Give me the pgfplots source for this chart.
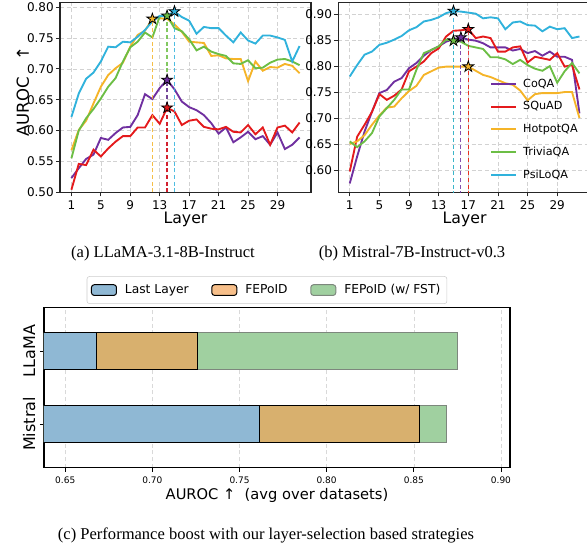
\documentclass[border=0pt]{standalone}
\usepackage{pgfplots}
\usepackage{pgfplotstable}
\pgfplotsset{compat=1.18}
\usepackage{fontspec}
\setmainfont{DejaVu Sans}
\newfontfamily\capfont{Liberation Serif}

\definecolor{cCoqa}{RGB}{112,48,160}
\definecolor{cSquad}{RGB}{228,26,28}
\definecolor{cHotpot}{RGB}{245,180,40}
\definecolor{cTrivia}{RGB}{108,190,69}
\definecolor{cPsi}{RGB}{48,178,220}
\definecolor{barBlue}{RGB}{143,184,212}
\definecolor{barTan}{RGB}{216,176,110}
\definecolor{barOrange}{RGB}{247,191,138}
\definecolor{barGreen}{RGB}{160,208,160}
\definecolor{barEdge}{RGB}{125,135,125}

% filled five-point star marker
\pgfdeclareplotmark{fstar}{%
  \pgfpathmoveto{\pgfpointpolar{90}{\pgfplotmarksize}}%
  \pgfpathlineto{\pgfpointpolar{126}{0.38\pgfplotmarksize}}%
  \pgfpathlineto{\pgfpointpolar{162}{\pgfplotmarksize}}%
  \pgfpathlineto{\pgfpointpolar{198}{0.38\pgfplotmarksize}}%
  \pgfpathlineto{\pgfpointpolar{234}{\pgfplotmarksize}}%
  \pgfpathlineto{\pgfpointpolar{270}{0.38\pgfplotmarksize}}%
  \pgfpathlineto{\pgfpointpolar{306}{\pgfplotmarksize}}%
  \pgfpathlineto{\pgfpointpolar{342}{0.38\pgfplotmarksize}}%
  \pgfpathlineto{\pgfpointpolar{18}{\pgfplotmarksize}}%
  \pgfpathlineto{\pgfpointpolar{54}{0.38\pgfplotmarksize}}%
  \pgfpathclose
  \pgfusepathqfillstroke}

% layer-wise AUROC, LLaMA-3.1-8B-Instruct
\pgfplotstableread{
layer coqa squad hotpot trivia psi
1 0.523 0.504 0.568 0.555 0.622
2 0.539 0.546 0.601 0.600 0.660
3 0.554 0.544 0.616 0.620 0.684
4 0.561 0.569 0.644 0.635 0.694
5 0.588 0.558 0.671 0.652 0.712
6 0.585 0.571 0.690 0.671 0.736
7 0.596 0.582 0.701 0.685 0.735
8 0.605 0.591 0.710 0.712 0.744
9 0.606 0.591 0.736 0.735 0.743
10 0.625 0.605 0.755 0.744 0.752
11 0.659 0.605 0.762 0.759 0.763
12 0.651 0.625 0.781 0.751 0.777
13 0.669 0.611 0.782 0.785 0.786
14 0.682 0.637 0.781 0.786 0.786
15 0.667 0.631 0.772 0.766 0.793
16 0.647 0.609 0.760 0.761 0.784
17 0.638 0.616 0.744 0.748 0.778
18 0.633 0.618 0.743 0.730 0.757
19 0.625 0.606 0.742 0.736 0.768
20 0.612 0.603 0.721 0.728 0.766
21 0.595 0.602 0.722 0.724 0.766
22 0.605 0.606 0.717 0.721 0.754
23 0.581 0.598 0.716 0.709 0.743
24 0.589 0.597 0.716 0.708 0.759
25 0.598 0.609 0.680 0.714 0.746
26 0.586 0.594 0.712 0.701 0.741
27 0.591 0.605 0.697 0.702 0.754
28 0.577 0.577 0.703 0.710 0.754
29 0.597 0.605 0.702 0.715 0.751
30 0.570 0.608 0.708 0.716 0.747
31 0.577 0.597 0.705 0.712 0.712
32 0.589 0.613 0.693 0.706 0.737
}\llama

% layer-wise AUROC, Mistral-7B-Instruct-v0.3
\pgfplotstableread{
layer coqa squad hotpot trivia psi
1 0.574 0.597 0.650 0.655 0.780
2 0.626 0.664 0.655 0.644 0.802
3 0.674 0.687 0.667 0.655 0.822
4 0.712 0.712 0.687 0.671 0.828
5 0.748 0.746 0.705 0.703 0.841
6 0.754 0.735 0.720 0.719 0.845
7 0.770 0.743 0.722 0.735 0.851
8 0.777 0.755 0.738 0.755 0.858
9 0.796 0.790 0.752 0.755 0.869
10 0.806 0.799 0.762 0.793 0.875
11 0.820 0.809 0.783 0.825 0.886
12 0.831 0.825 0.790 0.831 0.889
13 0.838 0.834 0.797 0.838 0.894
14 0.847 0.857 0.799 0.851 0.902
15 0.852 0.868 0.799 0.849 0.906
16 0.855 0.869 0.799 0.847 0.905
17 0.851 0.871 0.799 0.839 0.903
18 0.849 0.854 0.791 0.836 0.901
19 0.844 0.857 0.783 0.833 0.892
20 0.836 0.854 0.779 0.817 0.894
21 0.836 0.828 0.773 0.817 0.892
22 0.836 0.828 0.767 0.813 0.871
23 0.830 0.836 0.764 0.804 0.884
24 0.833 0.838 0.753 0.812 0.886
25 0.825 0.807 0.734 0.802 0.879
26 0.829 0.818 0.746 0.795 0.878
27 0.820 0.815 0.748 0.791 0.867
28 0.828 0.812 0.748 0.800 0.876
29 0.818 0.825 0.748 0.768 0.871
30 0.818 0.799 0.750 0.790 0.873
31 0.812 0.802 0.750 0.806 0.854
32 0.709 0.755 0.700 0.786 0.857
}\mistral

\pgfplotsset{
  layerax/.style={
    scale only axis, anchor=north west,
    xmin=-0.55, xmax=33.55, xtick={1,5,...,29},
    grid=major, grid style={densely dashed, gray!35, line width=0.4pt},
    axis line style={black!85, line width=0.8pt},
    tick align=outside, tick pos=left, major tick length=3pt,
    tick style={black!85, line width=0.6pt},
    ticklabel style={font=\fontsize{9}{10}\selectfont},
    yticklabel style={inner xsep=1.5pt, /pgf/number format/fixed, /pgf/number format/fixed zerofill, /pgf/number format/precision=2},
    /pgf/number format/assume math mode=true,
    xlabel={Layer},
    xlabel style={font=\fontsize{11.8}{13}\selectfont, at={(0.5,0)}, anchor=base, yshift=-23.8pt},
    every axis plot/.append style={line width=1.4pt},
  },
  vdash/.style={dash pattern=on 3pt off 2pt, line width=0.9pt, opacity=0.85, forget plot},
  starm/.style={only marks, mark=fstar, mark size=4.3pt, forget plot,
    mark options={draw=black, line width=0.6pt, fill=#1}},
  boxleg/.style={legend image code/.code={\draw[##1] (0pt,-4pt) rectangle (18.75pt,4pt);}},
}

\begin{document}
\begin{tikzpicture}
\useasboundingbox (0,0) rectangle (440.25pt,411pt);

% (a) LLaMA
\begin{axis}[layerax, at={(45pt,409.3pt)}, width=188.25pt, height=142.5pt,
  ymin=0.5, ymax=0.808, ytick={0.50,0.55,0.60,0.65,0.70,0.75,0.80},
  ylabel={AUROC\quad ↑},
  ylabel style={font=\fontsize{12.4}{14}\selectfont, at={(axis description cs:-0.148,0.53)}, anchor=center},
]
\addplot[cCoqa] table[x=layer,y=coqa]{\llama};
\addplot[cSquad] table[x=layer,y=squad]{\llama};
\addplot[cHotpot] table[x=layer,y=hotpot]{\llama};
\addplot[cTrivia] table[x=layer,y=trivia]{\llama};
\addplot[cPsi] table[x=layer,y=psi]{\llama};
\addplot[cHotpot, vdash] coordinates {(12,0.5) (12,0.781)};
\addplot[cTrivia, vdash] coordinates {(14,0.5) (14,0.786)};
\addplot[cCoqa, vdash] coordinates {(14,0.5) (14,0.682)};
\addplot[cSquad, vdash] coordinates {(14,0.5) (14,0.637)};
\addplot[cPsi, vdash] coordinates {(15,0.5) (15,0.793)};
\addplot[starm=cHotpot] coordinates {(12,0.781)};
\addplot[starm=cTrivia] coordinates {(14,0.786)};
\addplot[starm=cCoqa] coordinates {(14,0.682)};
\addplot[starm=cSquad] coordinates {(14,0.637)};
\addplot[starm=cPsi] coordinates {(15,0.793)};
\end{axis}

% (b) Mistral
\begin{axis}[layerax, at={(253.7pt,409.3pt)}, width=189.5pt, height=142.5pt,
  ymin=0.557, ymax=0.923, ytick={0.60,0.65,0.70,0.75,0.80,0.85,0.90},
  legend style={draw=none, fill=none, at={(0.975,0.035)}, anchor=south east,
    font=\fontsize{8.4}{9.5}\selectfont, row sep=5.2pt,
    /tikz/every odd column/.append style={column sep=2.5pt}},
  legend cell align=left,
  legend image code/.code={\draw[#1] (0pt,0pt) -- (18.75pt,0pt);},
]
\addplot[cCoqa] table[x=layer,y=coqa]{\mistral};
\addlegendentry{CoQA}
\addplot[cSquad] table[x=layer,y=squad]{\mistral};
\addlegendentry{SQuAD}
\addplot[cHotpot] table[x=layer,y=hotpot]{\mistral};
\addlegendentry{HotpotQA}
\addplot[cTrivia] table[x=layer,y=trivia]{\mistral};
\addlegendentry{TriviaQA}
\addplot[cPsi] table[x=layer,y=psi]{\mistral};
\addlegendentry{PsiLoQA}
\addplot[cTrivia, vdash] coordinates {(15,0.5) (15,0.849)};
\addplot[cPsi, vdash] coordinates {(15,0.5) (15,0.906)};
\addplot[cCoqa, vdash] coordinates {(16,0.5) (16,0.855)};
\addplot[cHotpot, vdash] coordinates {(17,0.5) (17,0.799)};
\addplot[cSquad, vdash] coordinates {(17,0.5) (17,0.871)};
\addplot[starm=cPsi] coordinates {(15,0.906)};
\addplot[starm=cTrivia] coordinates {(15,0.849)};
\addplot[starm=cCoqa] coordinates {(16,0.855)};
\addplot[starm=cSquad] coordinates {(17,0.871)};
\addplot[starm=cHotpot] coordinates {(17,0.799)};
\end{axis}

% (c) average AUROC per strategy
\begin{axis}[at={(33pt,180.5pt)}, anchor=north west, scale only axis,
  width=349.5pt, height=120.3pt,
  xbar, bar shift=0pt, bar width=0.5,
  xmin=0.6378, xmax=0.9052, ymin=-0.6, ymax=1.6,
  ytick={0,1}, yticklabels={Mistral,LLaMA},
  yticklabel style={rotate=90, anchor=south, font=\fontsize{12}{13}\selectfont},
  xtick={0.65,0.70,0.75,0.80,0.85,0.90},
  xticklabel style={font=\fontsize{6.75}{8}\selectfont,
    /pgf/number format/fixed, /pgf/number format/fixed zerofill, /pgf/number format/precision=2},
  /pgf/number format/assume math mode=true,
  xmajorgrids, grid style={densely dashed, gray!30, line width=0.4pt},
  axis line style={black, line width=0.8pt},
  tick align=outside, tick pos=left, major tick length=3pt,
  tick style={black, line width=0.6pt},
  xlabel={AUROC ↑\ \ (avg over datasets)},
  xlabel style={font=\fontsize{11}{12}\selectfont, at={(0.5,0)}, anchor=base, yshift=-23.7pt},
  legend columns=3,
  legend style={at={(0.4785,1)}, anchor=south, yshift=2.5pt,
    inner xsep=3pt, inner ysep=4pt,
    draw=gray!40, rounded corners=2pt, font=\fontsize{9.2}{10}\selectfont,
    /tikz/every odd column/.append style={column sep=4pt},
    /tikz/every even column/.append style={column sep=15pt}},
]
\addlegendimage{boxleg, fill=barBlue, draw=black, line width=0.75pt}
\addlegendentry{Last Layer}
\addlegendimage{boxleg, fill=barOrange, draw=black, line width=0.75pt}
\addlegendentry{FEPoID}
\addlegendimage{boxleg, fill=barGreen, draw=barEdge, line width=0.75pt}
\addlegendentry{FEPoID (w/ FST)}
\addplot[fill=barGreen, draw=barEdge, line width=0.75pt, forget plot] coordinates {(0.8752,1) (0.8688,0)};
\addplot[fill=barTan, draw=black, line width=0.75pt, forget plot] coordinates {(0.7256,1) (0.8530,0)};
\addplot[fill=barBlue, draw=black, line width=0.75pt, forget plot] coordinates {(0.6678,1) (0.7613,0)};
\end{axis}

\node[anchor=base, font=\capfont\fontsize{12.4}{14}\selectfont] at (122.25pt,217.5pt) {(a) LLaMA-3.1-8B-Instruct};
\node[anchor=base, font=\capfont\fontsize{12.4}{14}\selectfont] at (309pt,217.5pt) {(b) Mistral-7B-Instruct-v0.3};
\node[anchor=base, font=\capfont\fontsize{12.4}{14}\selectfont] at (199.5pt,6pt) {(c) Performance boost with our layer-selection based strategies};
\end{tikzpicture}
\end{document}
